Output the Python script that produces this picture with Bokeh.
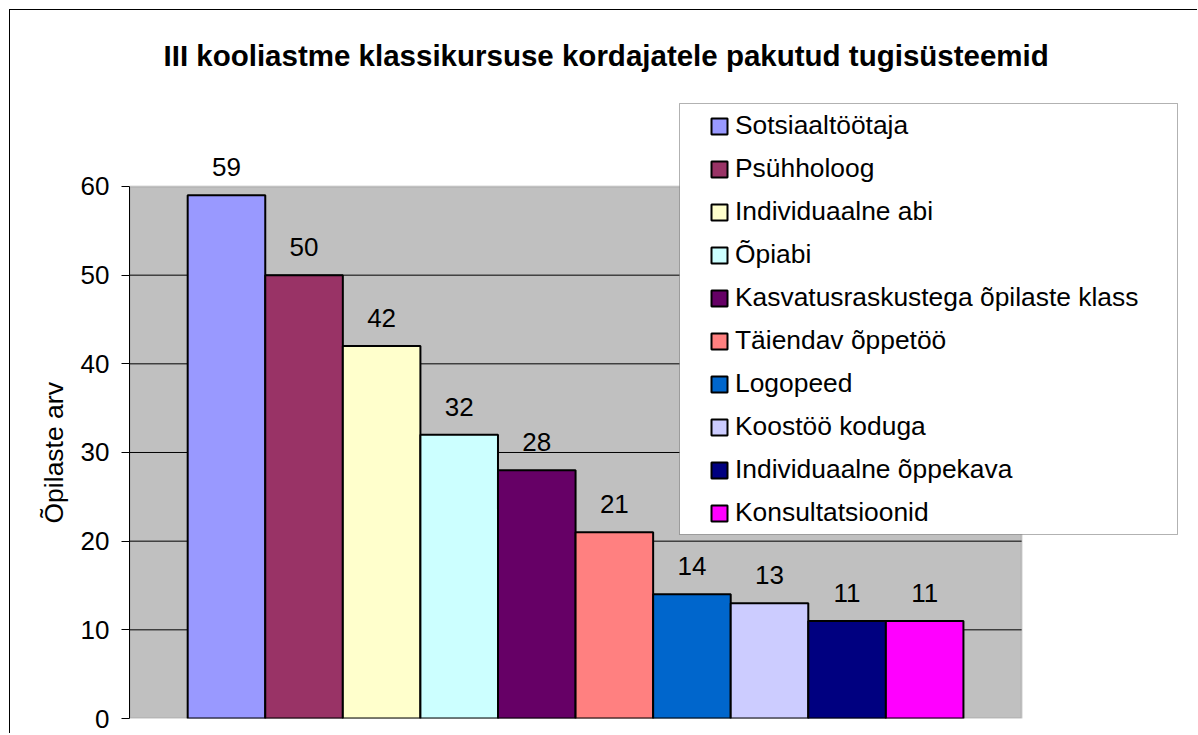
from bokeh.plotting import figure
from bokeh.models import (ColumnDataSource, Range1d, FixedTicker, Legend, LegendItem,
                          Title, BoxAnnotation)
from bokeh.core.properties import value
from bokeh.embed import file_html
from bokeh.resources import INLINE

# ---- data ----
categories = ["Sotsiaaltöötaja", "Psühholoog", "Individuaalne abi", "Õpiabi",
              "Kasvatusraskustega õpilaste klass", "Täiendav õppetöö", "Logopeed",
              "Koostöö koduga", "Individuaalne õppekava", "Konsultatsioonid"]
values = [59, 50, 42, 32, 28, 21, 14, 13, 11, 11]
colors = ["#9999FF", "#993366", "#FFFFCC", "#CCFFFF", "#660066",
          "#FF8080", "#0066CC", "#CCCCFF", "#000080", "#FF00FF"]
y_ticks = [0, 10, 20, 30, 40, 50, 60]
grid_ticks = [10, 20, 30, 40, 50]
title_text = "III kooliastme klassikursuse kordajatele pakutud tugisüsteemid"
y_label = "Õpilaste arv"

FONT = "Liberation Sans"
n = len(categories)
Y_MAX = y_ticks[-1]
GAP = 0.75                     # half of Excel's 150 % gap width
X_LO, X_HI = -0.5 - GAP, n - 0.5 + GAP

src = ColumnDataSource(dict(
    x=list(range(n)),
    value=values,
    color=colors,
    label=[str(v) for v in values],
))

p = figure(width=1188, height=724, output_backend="svg", toolbar_location=None,
           x_range=Range1d(X_LO, 12.53), y_range=Range1d(0, 70.15),
           x_axis_location=None,
           min_border_left=119, min_border_right=0,
           min_border_top=86, min_border_bottom=16)
p.styles = {"margin-left": "9px", "margin-top": "9px",
            "border-left": "1px solid black", "border-top": "1px solid black"}
p.background_fill_color = "white"
p.border_fill_color = "white"
p.outline_line_color = None
p.xgrid.visible = False
p.ygrid.visible = False

# plot area
p.add_layout(BoxAnnotation(left=X_LO, right=X_HI, bottom=0, top=Y_MAX,
                           fill_color="#C0C0C0", fill_alpha=1,
                           line_color="#808080", line_width=2, level="underlay"))

# gridlines
p.segment(x0=X_LO, x1=X_HI, y0=grid_ticks, y1=grid_ticks,
          line_color="black", line_width=1)

ax = p.yaxis[0]
ax.ticker = FixedTicker(ticks=y_ticks)
ax.bounds = (0, Y_MAX)
ax.major_label_text_font = FONT
ax.major_label_text_font_size = "26px"
ax.major_label_text_color = "black"
ax.major_tick_out = 8
ax.major_tick_in = 0
ax.minor_tick_out = 0
ax.minor_tick_in = 0
ax.major_label_standoff = 12
ax.axis_line_color = "black"
ax.major_tick_line_color = "black"

r = p.vbar(x="x", top="value", width=1.0, bottom=0, source=src,
           fill_color="color", line_color="black", line_width=2)

p.text(x="x", y="value", text="label", source=src, text_align="center",
       text_baseline="alphabetic", y_offset=-28,
       text_font=value(FONT), text_font_size="26px", text_color="black")

# y-axis title
p.add_layout(Title(text=y_label, align="left", offset=195, standoff=17,
                   text_font=FONT, text_font_size="26.5px", text_font_style="normal",
                   text_color="black"), "left")

# chart title
p.title.text = title_text
p.title.align = "left"
p.title.offset = 34
p.title.standoff = 49
p.title.text_font = FONT
p.title.text_font_size = "29.5px"
p.title.text_font_style = "bold"
p.title.text_color = "black"

# legend box
p.add_layout(BoxAnnotation(left=668, right=1166, top=92, bottom=523,
                           left_units="canvas", right_units="canvas",
                           top_units="canvas", bottom_units="canvas",
                           fill_color="white", fill_alpha=1,
                           line_color="black", line_width=1))

items = [LegendItem(label=c, renderers=[r], index=i) for i, c in enumerate(categories)]
legend = Legend(items=items, location=(580, 190),
                label_text_font=FONT, label_text_font_size="26.4px",
                label_text_color="black",
                glyph_width=20, glyph_height=20, label_height=30,
                spacing=12, padding=0, label_standoff=6,
                border_line_alpha=0, background_fill_alpha=0)
p.add_layout(legend, "center")

open("out.html", "w").write(file_html(p, INLINE))
